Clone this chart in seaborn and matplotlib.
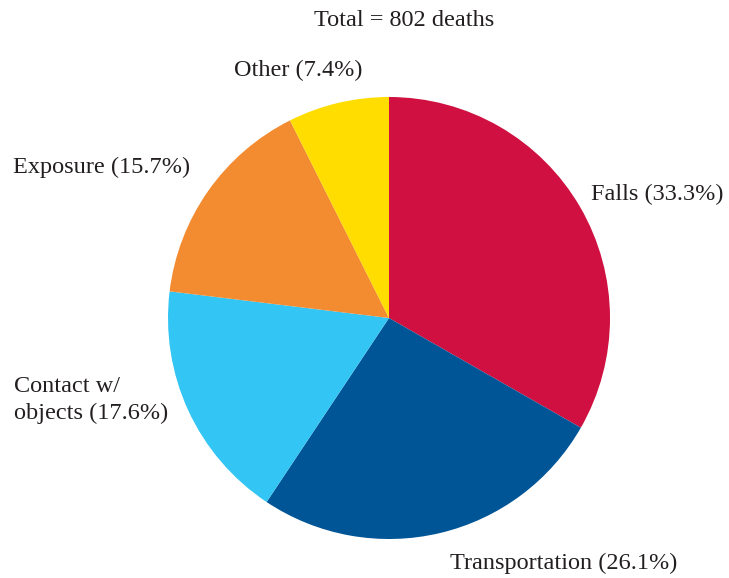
import matplotlib
matplotlib.use("Agg")
import matplotlib.pyplot as plt
import seaborn as sns

# Data
categories = ["Falls", "Transportation", "Contact w/\nobjects", "Exposure", "Other"]
shares = [33.3, 26.1, 17.6, 15.7, 7.4]
total_deaths = 802
colors = ["#CF1040", "#005596", "#33C5F3", "#F38B31", "#FFDD00"]

sns.set_theme(style="white")
plt.rcParams["font.family"] = ["Liberation Serif", "DejaVu Serif"]

W, H = 729, 578
fig = plt.figure(figsize=(W / 100, H / 100), dpi=100)

# pie centre (389, 318) px, radius ~221 px
cx, cy, r = 389, 318, 221
ax = fig.add_axes([(cx - r) / W, (H - cy - r) / H, 2 * r / W, 2 * r / H])
ax.pie(
    shares,
    colors=sns.color_palette(colors),
    startangle=90,
    counterclock=False,
    wedgeprops=dict(linewidth=0),
)
ax.set_xlim(-1, 1)
ax.set_ylim(-1, 1)
ax.set_aspect("equal")
ax.axis("off")

# label placement in pixels: (x, y, ha)
label_pos = {
    "Falls": (591, 194, "left"),
    "Transportation": (564, 563, "center"),
    "Contact w/\nobjects": (14, 400, "left"),
    "Exposure": (102, 167, "center"),
    "Other": (298, 70, "center"),
}

fs = 17.5
for cat, val in zip(categories, shares):
    x, y, ha = label_pos[cat]
    fig.text(x / W, 1 - y / H, f"{cat} ({val}%)", ha=ha, va="center",
             fontsize=fs, color="#231F20", linespacing=1.3)

fig.text(404 / W, 1 - 20 / H, f"Total = {total_deaths} deaths", ha="center",
         va="center", fontsize=fs, color="#231F20")

fig.savefig("out.png", dpi=100)
